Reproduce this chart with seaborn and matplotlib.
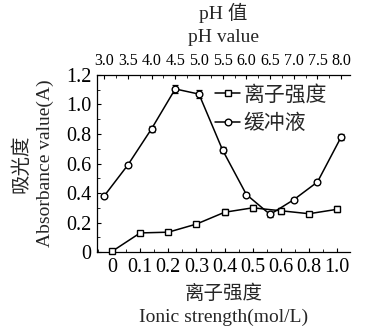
# %%
# 1. Import packages

import pandas as pd
import matplotlib
matplotlib.use("Agg")
import matplotlib.pyplot as plt
import seaborn as sns
from matplotlib.ticker import MultipleLocator

sns.set_theme(style="ticks")
plt.rcParams['font.family'] = ['Liberation Serif', 'Noto Sans CJK SC']
plt.rcParams['axes.unicode_minus'] = False

# %%
# 2. Data

ionic_labels = ['0', '0.1', '0.2', '0.3', '0.4', '0.5', '0.6', '0.8', '1.0']
ionic_abs = [0.005, 0.13, 0.135, 0.19, 0.27, 0.30, 0.28, 0.26, 0.29]
ionic_err = [0.005, 0.010, 0.010, 0.010, 0.020, 0.020, 0.020, 0.015, 0.020]

ph_values = [3.0, 3.5, 4.0, 4.5, 5.0, 5.5, 6.0, 6.5, 7.0, 7.5, 8.0]
buffer_abs = [0.38, 0.59, 0.835, 1.105, 1.07, 0.69, 0.39, 0.255, 0.355, 0.475, 0.78]
buffer_err = [0.010, 0.015, 0.020, 0.030, 0.025, 0.020, 0.010, 0.020, 0.010, 0.015, 0.020]

ionic_df = pd.DataFrame({'pos': range(len(ionic_labels)), 'abs': ionic_abs, 'err': ionic_err})
buffer_df = pd.DataFrame({'ph': ph_values, 'abs': buffer_abs, 'err': buffer_err})

# %%
# 3. Figure

fig = plt.figure(figsize=(3.69, 3.30), dpi=100)
ax = fig.add_axes([0.263, 0.236, 0.686, 0.537])
ax2 = ax.twiny()

line_kw = dict(color='black', linewidth=1.1, markersize=4.8,
               markerfacecolor='white', markeredgecolor='black', markeredgewidth=1.0)

sns.lineplot(data=ionic_df, x='pos', y='abs', ax=ax, marker='s', label='离子强度',
             legend=False, clip_on=False, zorder=3, **line_kw)
ax.errorbar(ionic_df['pos'], ionic_df['abs'], yerr=ionic_df['err'], fmt='none',
            ecolor='black', elinewidth=0.9, capsize=2.5, capthick=0.9, zorder=2)

sns.lineplot(data=buffer_df, x='ph', y='abs', ax=ax2, marker='o', label='缓冲液',
             legend=False, clip_on=False, zorder=3, **line_kw)
ax2.errorbar(buffer_df['ph'], buffer_df['abs'], yerr=buffer_df['err'], fmt='none',
             ecolor='black', elinewidth=0.9, capsize=2.5, capthick=0.9, zorder=2)

# Axes limits and ticks
ax.set_ylim(0, 1.2)
ax.set_xlim(-0.533, 8.462)
ax2.set_xlim(2.85, 8.19)

ax.set_xticks(range(len(ionic_labels)))
ax.set_xticklabels(ionic_labels)
ax.xaxis.set_minor_locator(MultipleLocator(0.5))
ax.set_yticks([0, 0.2, 0.4, 0.6, 0.8, 1.0, 1.2])
ax.set_yticklabels(['0', '0.2', '0.4', '0.6', '0.8', '1.0', '1.2'])
ax.yaxis.set_minor_locator(MultipleLocator(0.1))

ax2.set_xticks(ph_values)
ax2.set_xticklabels([f'{v:.1f}' for v in ph_values])
ax2.xaxis.set_minor_locator(MultipleLocator(0.25))

ax.tick_params(axis='both', which='major', direction='in', length=3, width=0.8,
               labelsize=14.5, pad=4, colors='black')
ax.tick_params(axis='both', which='minor', direction='in', length=2, width=0.7)
ax2.tick_params(axis='x', which='major', direction='in', length=3, width=0.8,
                labelsize=11.5, pad=4, colors='black')
ax2.tick_params(axis='x', which='minor', direction='in', length=2, width=0.7)

for a in (ax, ax2):
    a.spines['right'].set_visible(False)
    for s in a.spines.values():
        s.set_linewidth(0.9)
        s.set_color('black')
ax.spines['top'].set_visible(False)
ax2.spines['bottom'].set_visible(False)
ax2.spines['left'].set_visible(False)

ax.set_xlabel('离子强度\nIonic strength(mol/L)', fontsize=14, labelpad=6, linespacing=1.4)
ax.set_ylabel('吸光度\nAbsorbance value(A)', fontsize=14, labelpad=9, linespacing=1.45)
ax2.set_xlabel('pH 值\npH value', fontsize=14, labelpad=8, linespacing=1.45)

# Legend
handles = ax.get_lines()[:1] + ax2.get_lines()[:1]
ax2.legend(handles, ['离子强度', '缓冲液'], loc='upper left', bbox_to_anchor=(0.466, 0.94),
           frameon=False, fontsize=15, handlelength=1.2, handletextpad=0.15,
           borderpad=0, borderaxespad=0, labelspacing=0.45)

plt.savefig('out.png', dpi=100)
